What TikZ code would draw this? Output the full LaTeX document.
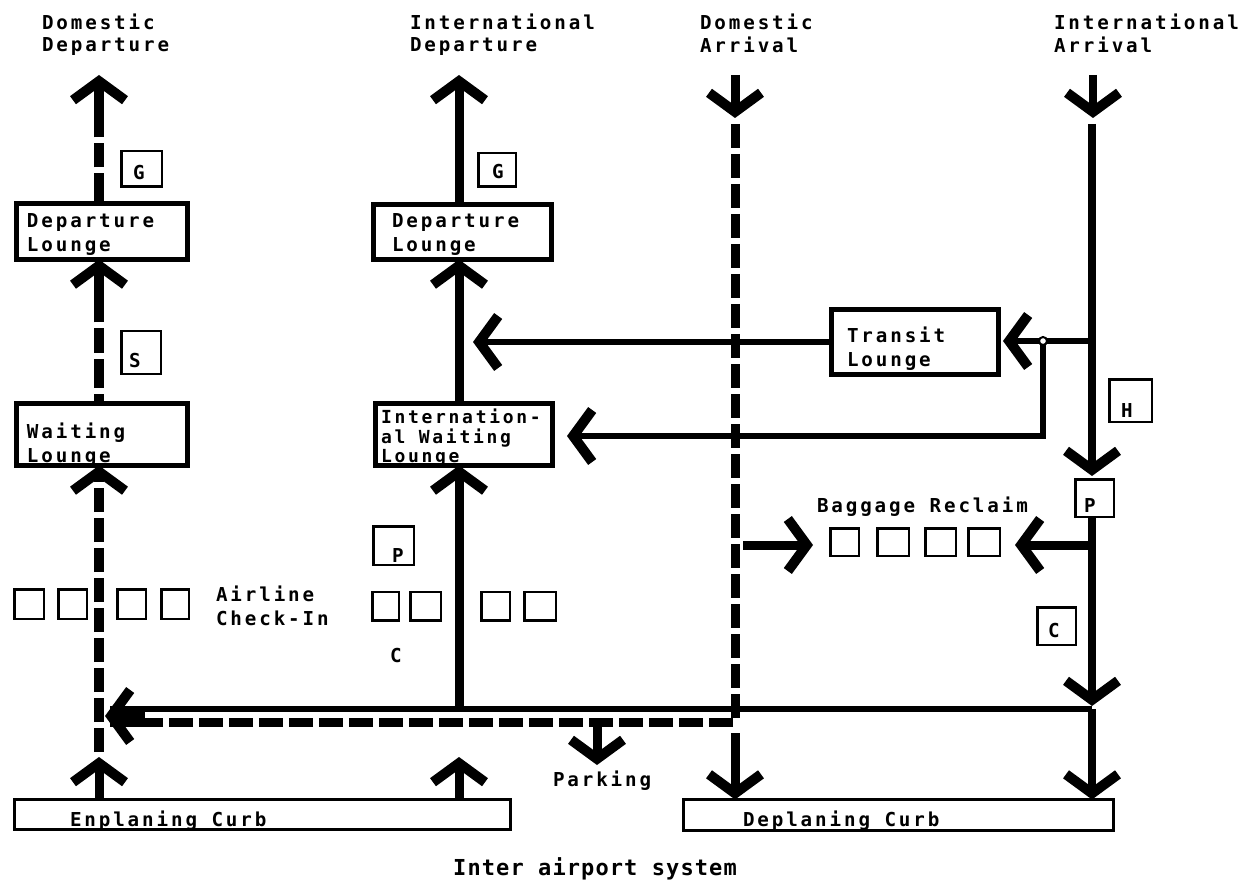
\documentclass[tikz,border=0pt]{standalone}
\usepackage{fontspec}
\usetikzlibrary{arrows.meta}
\newfontfamily\plotfont[LetterSpace=15]{DejaVu Sans Mono}
\newfontfamily\capfont[LetterSpace=5]{DejaVu Sans Mono}
\newcommand\plotsz{\plotfont\bfseries\fontsize{19.2pt}{22pt}\selectfont}
\newcommand\loungesz{\plotfont\bfseries\fontsize{19.2pt}{24pt}\selectfont}
\newcommand\twolines[2]{\begin{tabular}[t]{@{}l@{}}#1\\#2\end{tabular}}
\newcommand\threelines[3]{\begin{tabular}[t]{@{}l@{}}#1\\#2\\#3\end{tabular}}
\begin{document}
\begin{tikzpicture}[x=1pt,y=-1pt,
  txt/.style={inner sep=0pt, outer sep=0pt, anchor=base west, font=\plotsz},
  ltxt/.style={txt, font=\loungesz},
  lounge/.style={draw, line width=5pt, inner sep=0pt, outer sep=0pt},
  tag/.style={draw, line width=2.5pt, inner sep=0pt, outer sep=0pt},
  desk/.style={draw, line width=2.5pt, inner sep=0pt, outer sep=0pt},
  curb/.style={draw, line width=3pt, inner sep=0pt, outer sep=0pt},
  tipd/.style={-{Straight Barb[length=19pt,width=52pt,line width=10pt,sharp]}},
  flow/.style={line width=9pt, tipd},
  thinflow/.style={line width=6pt},
  dflow/.style={line width=10pt},
]
\useasboundingbox (0,0) rectangle (1244,882);

% ---------- headings ----------
\node[txt] (hDD) at (42,30) {\twolines{Domestic}{Departure}};
\node[txt] (hID) at (410,30) {\twolines{International}{Departure}};
\node[txt] (hDA) at (700,30) {\twolines{Domestic}{Arrival}};
\node[txt] (hIA) at (1054,30) {\twolines{International}{Arrival}};

% ---------- lounges ----------
\node[lounge, minimum width=171pt, minimum height=56pt] (ddl) at (102,231.5) {};
\node[ltxt] (ddlt) at (27,228) {\twolines{Departure}{Lounge}};
\node[lounge, minimum width=178pt, minimum height=55pt] (idl) at (462.5,232) {};
\node[ltxt] (idlt) at (392,228) {\twolines{Departure}{Lounge}};
\node[lounge, minimum width=171pt, minimum height=62pt] (dwl) at (102,434.5) {};
\node[ltxt] (dwlt) at (27,438) {\twolines{Waiting}{Lounge}};
\node[lounge, minimum width=177pt, minimum height=62pt] (iwl) at (464,434.5) {};
\node[txt, font=\plotfont\bfseries\fontsize{18pt}{19pt}\selectfont] (iwlt) at (381,423) {\threelines{Internation-}{al Waiting}{Lounge}};
\node[lounge, minimum width=167pt, minimum height=64pt] (tl) at (915,342) {};
\node[ltxt] (tlt) at (847,342) {\twolines{Transit}{Lounge}};

% ---------- tags ----------
\node[tag, minimum width=40.5pt, minimum height=35.5pt] (g1) at (141.5,169) {};
\node[txt] (g1t) at (133,180) {G};
\node[tag, minimum width=37.5pt, minimum height=33.5pt] (g2) at (497,170) {};
\node[txt] (g2t) at (492,179) {G};
\node[tag, minimum width=39.5pt, minimum height=42.5pt] (s1) at (141,352.5) {};
\node[txt] (s1t) at (129,367) {S};
\node[tag, minimum width=40.5pt, minimum height=38.5pt] (p1) at (393.5,545.5) {};
\node[txt] (p1t) at (392,562) {P};
\node[tag, minimum width=42.5pt, minimum height=42.5pt] (h1) at (1130.5,400.5) {};
\node[txt] (h1t) at (1121,417) {H};
\node[tag, minimum width=38.5pt, minimum height=37.5pt] (p2) at (1094.5,498) {};
\node[txt] (p2t) at (1084,512) {P};
\node[tag, minimum width=38.5pt, minimum height=37.5pt] (c2) at (1056.5,626) {};
\node[txt] (c2t) at (1048,637) {C};

% ---------- check-in desks ----------
\node[desk, minimum width=29.5pt, minimum height=29.5pt] (k1) at (29,604) {};
\node[desk, minimum width=28.5pt, minimum height=29.5pt] (k2) at (72.5,604) {};
\node[desk, minimum width=28.5pt, minimum height=29.5pt] (k3) at (131.5,604) {};
\node[desk, minimum width=27.5pt, minimum height=29.5pt] (k4) at (175,604) {};
\node[desk, minimum width=26.5pt, minimum height=28.5pt] (k5) at (385.5,606) {};
\node[desk, minimum width=30.5pt, minimum height=28.5pt] (k6) at (425.5,606) {};
\node[desk, minimum width=28.5pt, minimum height=28.5pt] (k7) at (495.5,606) {};
\node[desk, minimum width=31.5pt, minimum height=28.5pt] (k8) at (540,606) {};
\node[ltxt] (ckt) at (216,601) {\twolines{Airline}{Check-In}};
\node[txt] (cct) at (390,662) {C};

% ---------- baggage ----------
\node[desk, minimum width=28.5pt, minimum height=27.5pt] (bg1) at (844.5,542) {};
\node[desk, minimum width=31.5pt, minimum height=27.5pt] (bg2) at (893,542) {};
\node[desk, minimum width=30.5pt, minimum height=27.5pt] (bg3) at (940.5,542) {};
\node[desk, minimum width=31.5pt, minimum height=27.5pt] (bg4) at (984,542) {};
\node[txt] (bgt) at (817,512) {Baggage Reclaim};

% ---------- curbs ----------
\node[curb, minimum width=496pt, minimum height=30pt] (enp) at (262.5,814.5) {};
\node[txt] (enpt) at (70,826) {Enplaning Curb};
\node[curb, minimum width=430pt, minimum height=31pt] (dep) at (898.5,815) {};
\node[txt] (dept) at (743,826) {Deplaning Curb};
\node[txt] (pkt) at (553,786) {Parking};
\node[inner sep=0pt, anchor=base west, font=\capfont\bfseries\fontsize{22pt}{24pt}\selectfont] (cap) at (453,875) {Inter airport system};

% ---------- coordinates ----------
\coordinate (ddtop) at (99,75);
\coordinate (dbot) at (99,752);
\coordinate (ddenp) at (99,757);
\coordinate (idtop) at (459,75);
\coordinate (idmerge) at (459,709);
\coordinate (idenp) at (459,757);
\coordinate (datop) at (735,75);
\coordinate (datip) at (735,118);
\coordinate (dastart) at (735,124);
\coordinate (dacorner) at (735,722);
\coordinate (daleft) at (145,722);
\coordinate (dalow) at (735,733);
\coordinate (dabag) at (743,545);
\coordinate (dabagtip) at (813,545);
\coordinate (iatop) at (1093,75);
\coordinate (iatip) at (1093,118);
\coordinate (iastart) at (1092,124);
\coordinate (iaptip) at (1092,476);
\coordinate (iahtip) at (1092,706);
\coordinate (iamid) at (1092,709);
\coordinate (iatr) at (1092,341);
\coordinate (tltip) at (1003,341);
\coordinate (jdown) at (1043,436);
\coordinate (iwltip) at (567,436);
\coordinate (trtip) at (473,342);
\coordinate (iabag) at (1092,545);
\coordinate (iabagtip) at (1015,545);
\coordinate (hleft) at (145,709);
\coordinate (mtail) at (145,716);
\coordinate (mtip) at (105,716);
\coordinate (pkstart) at (597,727);
\coordinate (pktip) at (597,765);

% ---------- domestic departure ----------
\draw[dflow, tipd, dash pattern=on 30pt off 6pt on 24pt off 6pt on 200pt] (ddl.north -| ddtop) -- (ddtop);
\draw[dflow, tipd, dash pattern=on 10pt off 6pt on 29pt off 6pt on 24pt off 6pt on 200pt] (dwl.north -| ddtop) -- (ddl.south -| ddtop);
\draw[dflow, tipd, dash pattern=on 24pt off 6pt] (dbot) -- (dwl.south -| ddtop);
\draw[flow] (enp.north -| ddtop) -- (ddenp);

% ---------- international departure ----------
\draw[flow] (idl.north -| idtop) -- (idtop);
\draw[flow] (iwl.north -| idtop) -- (idl.south -| idtop);
\draw[flow] (idmerge) -- (iwl.south -| idtop);
\draw[flow] (enp.north -| idtop) -- (idenp);

% ---------- domestic arrival ----------
\draw[flow] (datop) -- (datip);
\draw[dflow, line width=9pt, dash pattern=on 24pt off 6pt] (dastart) -- (dacorner) -- (daleft);
\draw[flow] (dalow) -- (dep.north -| datop);
\draw[flow] (dabag) -- (dabagtip);

% ---------- international arrival ----------
\draw[flow, line width=8pt] (iatop) -- (iatip);
\draw[flow, line width=8pt] (iastart) -- (iaptip);
\draw[flow, line width=8pt] (p2.south -| iastart) -- (iahtip);
\draw[flow, line width=8pt] (iamid) -- (dep.north -| iamid);
\draw[thinflow, tipd] (iatr) -- (tltip);
\draw[thinflow, tipd] (tl.west) -- (tl.west -| trtip);
\draw[thinflow, tipd] (1043,341) -- (jdown) -- (iwltip);
\draw[flow] (iabag) -- (iabagtip);
\node[circle, draw, fill=white, line width=2pt, inner sep=0pt, minimum size=8pt] (jn) at (1043,341) {};

% ---------- bottom distribution ----------
\draw[thinflow] (iamid) -- (hleft);
\fill (110,706) rectangle (145,727);
\draw[thinflow, tipd] (mtail) -- (mtip);
\draw[flow] (pkstart) -- (pktip);
\end{tikzpicture}
\end{document}
